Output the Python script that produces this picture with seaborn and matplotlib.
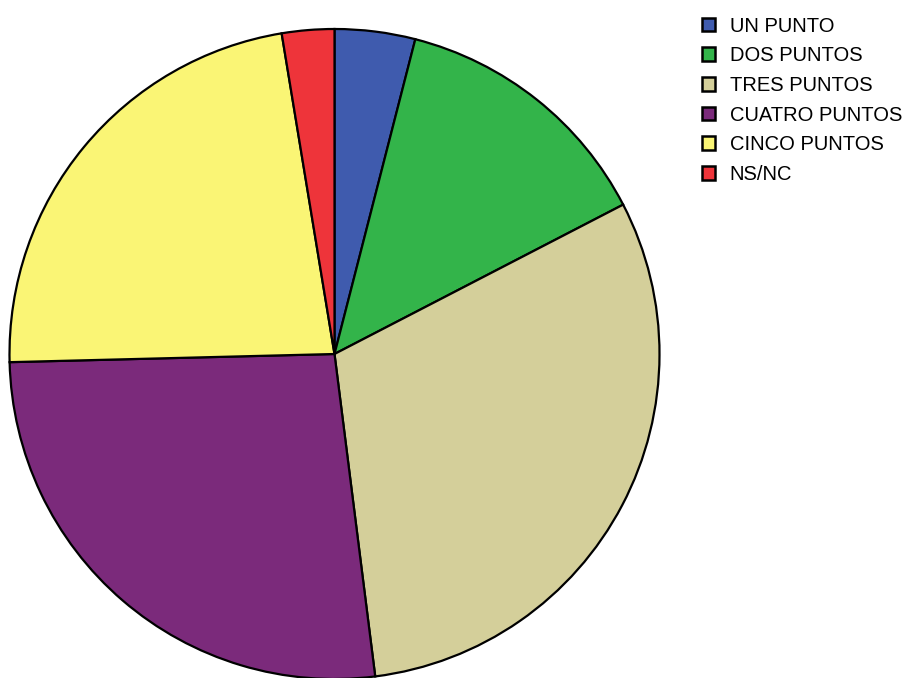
import matplotlib
matplotlib.use("Agg")
import matplotlib.pyplot as plt
from matplotlib.patches import Patch
import seaborn as sns

# Respuestas por puntuación (porcentaje)
categories = ["UN PUNTO", "DOS PUNTOS", "TRES PUNTOS", "CUATRO PUNTOS", "CINCO PUNTOS", "NS/NC"]
values = [4.0, 13.4, 30.6, 26.6, 22.8, 2.6]
colors = ["#3F5BAE", "#33B44A", "#D4CF9A", "#7B2A7B", "#FAF575", "#EE343A"]

sns.set_theme(style="white")
plt.rcParams["font.family"] = ["Liberation Sans", "DejaVu Sans"]

W, H = 905, 678
fig = plt.figure(figsize=(W / 100, H / 100), dpi=100)
ax = fig.add_axes([0, 0, 1, 1])
ax.set_xlim(0, W)
ax.set_ylim(0, H)
ax.set_aspect("equal")
ax.axis("off")

ax.pie(values, colors=colors, startangle=90, counterclock=False,
       center=(334.5, H - 354), radius=325,
       wedgeprops=dict(edgecolor="black", linewidth=1.6))
ax.set_xlim(0, W)
ax.set_ylim(0, H)

handles = [Patch(facecolor=c, edgecolor="black", linewidth=1.8) for c in colors]
leg = fig.legend(handles, categories, loc="upper left",
                 bbox_to_anchor=(702 / W, 1 - 16.5 / H), frameon=False,
                 fontsize=14.5, handlelength=0.66, handleheight=0.66,
                 handletextpad=0.72, labelspacing=0.53, borderpad=0,
                 borderaxespad=0)
for t in leg.get_texts():
    t.set_color("black")

fig.savefig("out.png", dpi=100)
